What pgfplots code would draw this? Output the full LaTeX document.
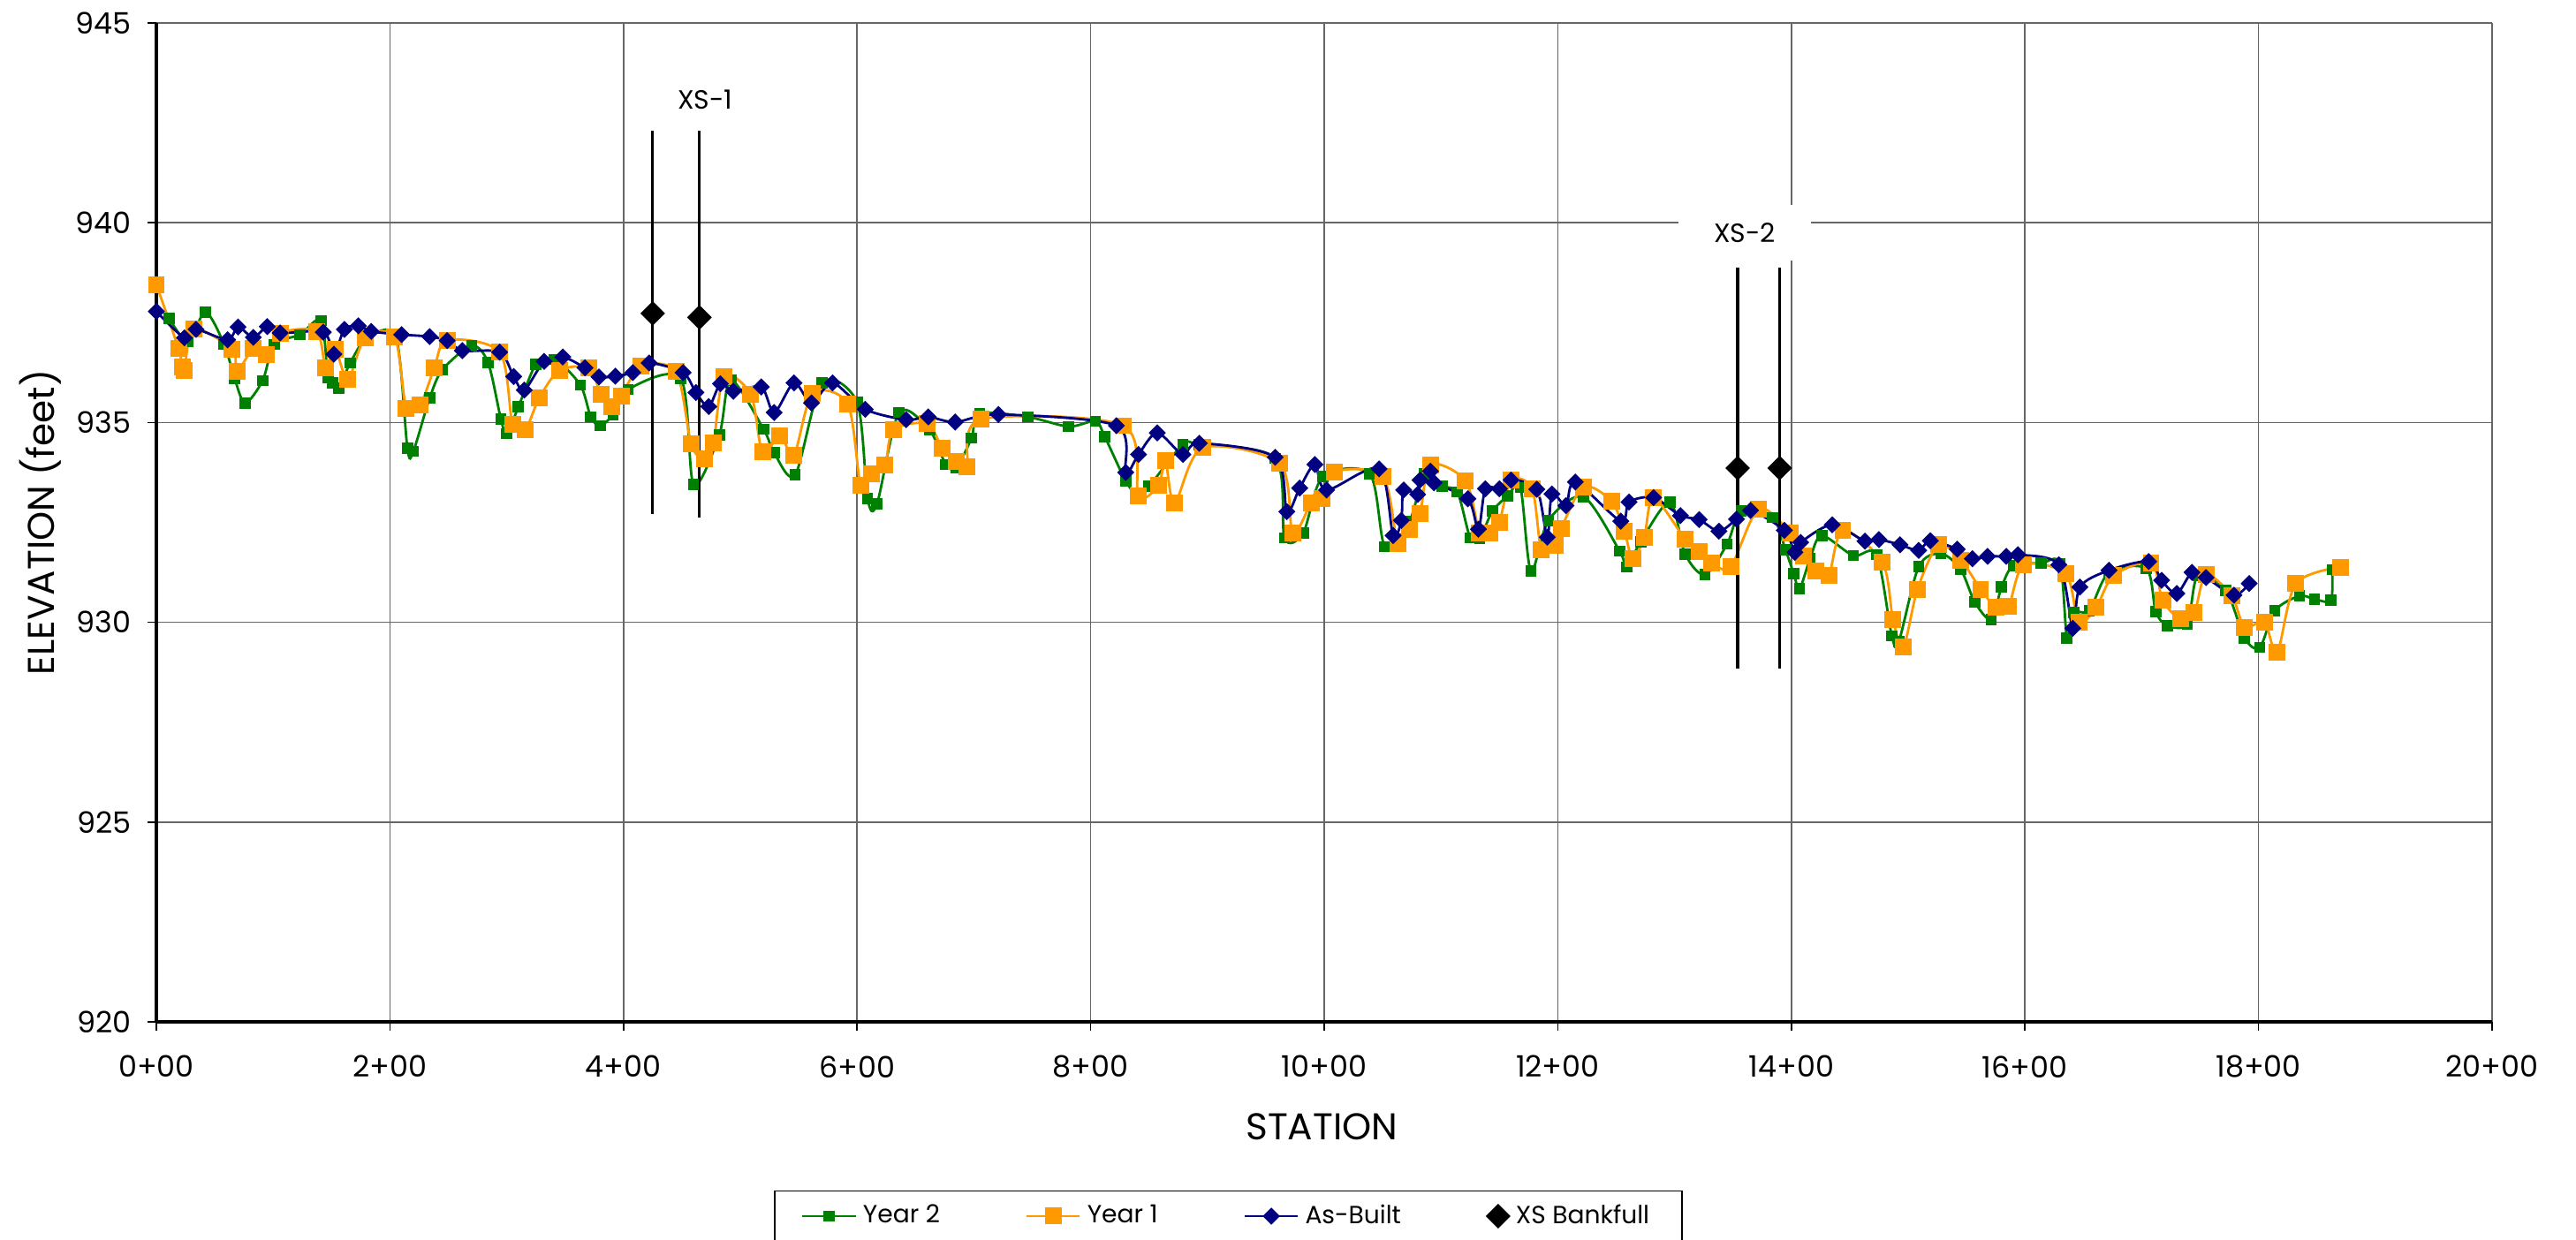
\documentclass[border=0pt]{standalone}
\usepackage{fontspec}
\setmainfont{Poppins}
\usepackage{pgfplots}
\pgfplotsset{compat=1.18}
\definecolor{ygreen}{RGB}{0,128,0}
\definecolor{yorange}{RGB}{255,153,0}
\definecolor{navyb}{RGB}{0,0,128}
\begin{document}
\begin{tikzpicture}
\useasboundingbox (-1.77,-2.47) rectangle (27.39,11.57);
\begin{axis}[
  at={(0,0)}, anchor=south west, scale only axis,
  width=26.44cm, height=11.31cm,
  xmin=0, xmax=2000, ymin=920, ymax=945,
  xtick={0,200,400,600,800,1000,1200,1400,1600,1800,2000},
  xticklabels={0+00,2+00,4+00,6+00,8+00,10+00,12+00,14+00,16+00,18+00,20+00},
  ytick={920,925,930,935,940,945},
  /pgf/number format/assume math mode=true,
  /pgf/number format/1000 sep={},
  grid=major, major grid style={gray!80!black, line width=0.45pt},
  axis x line*=bottom, axis y line*=left,
  axis line style={line width=1.1pt, black, -},
  tick align=outside, major tick length=0.1cm,
  tick style={black, line width=0.45pt},
  ticklabel style={font=\fontsize{9.5}{11}\selectfont},
  xticklabel style={yshift=-0.16cm},
  yticklabel style={xshift=-0.06cm},
  xlabel={STATION}, ylabel={ELEVATION (feet)},
  label style={font=\fontsize{12}{14}\selectfont},
  xlabel style={at={(axis description cs:0.499,-0.105)}, anchor=center},
  ylabel style={at={(axis description cs:-0.0495,0.5)}, anchor=center},
  legend style={at={(axis description cs:0.459,-0.1945)}, anchor=center,
    legend columns=4, draw=black, font=\fontsize{8}{10}\selectfont,
    inner xsep=0.3cm, inner ysep=0.08cm,
    /tikz/every even column/.append style={column sep=0.9cm}},
  legend cell align=left,
]
% Year 2
\addplot[color=ygreen, line width=0.8pt, smooth, tension=0.5, mark=square*, mark size=1.4pt, mark options={fill=ygreen, draw=ygreen}] coordinates {
(11,937.61)(27,937.02)(42,937.76)(58,936.96)(67,936.10)(76,935.49)(91,936.05)(101,936.95)
(123,937.20)(141,937.55)(147,936.12)(151,935.99)(156,935.86)(166,936.49)(180,937.10)(205,937.15)
(215,934.35)(220,934.28)(234,935.61)(245,936.32)(270,936.92)(284,936.50)(295,935.09)(300,934.72)
(310,935.39)(325,936.45)(341,936.58)(363,935.94)(372,935.14)(380,934.92)(391,935.20)(404,935.83)
(449,936.10)(460,933.45)(482,934.69)(492,936.06)(520,934.83)(529,934.24)(547,933.69)(570,935.99)
(600,935.50)(609,933.10)(617,932.96)(636,935.25)(662,934.81)(676,933.95)(685,933.87)(698,934.61)
(705,935.22)(746,935.14)(781,934.90)(804,935.03)(812,934.65)(830,933.54)(841,933.16)(850,933.40)
(879,934.45)(893,934.45)(958,934.10)(966,932.11)(982,932.24)(999,933.65)(1039,933.71)(1052,931.89)
(1073,932.53)(1086,933.71)(1101,933.40)(1114,933.26)(1125,932.11)(1133,932.09)(1144,932.78)(1157,933.16)
(1168,933.37)(1177,931.28)(1192,932.55)(1222,933.14)(1253,931.78)(1259,931.38)(1271,932.02)(1296,933.01)
(1309,931.71)(1326,931.19)(1345,931.96)(1357,932.78)(1384,932.62)(1395,931.81)(1402,931.22)(1407,930.84)
(1416,931.59)(1426,932.17)(1453,931.67)(1473,931.69)(1486,929.66)(1492,929.52)(1509,931.39)(1528,931.72)
(1545,931.32)(1557,930.51)(1571,930.07)(1580,930.88)(1590,931.41)(1614,931.48)(1630,931.47)(1636,929.60)
(1642,930.25)(1655,930.29)(1672,931.25)(1704,931.34)(1712,930.27)(1722,929.92)(1739,929.96)(1748,931.17)
(1772,930.80)(1788,929.61)(1801,929.37)(1814,930.29)(1835,930.66)(1848,930.58)(1862,930.55)(1863,931.32)
};
\addlegendentry{Year 2}
% Year 1
\addplot[color=yorange, line width=0.8pt, smooth, tension=0.5, mark=square*, mark size=2.3pt, mark options={fill=yorange, draw=yorange}] coordinates {
(0,938.45)(19,936.85)(22,936.40)(24,936.30)(32,937.33)(65,936.84)(69,936.28)(83,936.85)
(94,936.71)(106,937.24)(137,937.28)(145,936.37)(153,936.84)(164,936.08)(179,937.13)(204,937.14)
(214,935.36)(226,935.45)(238,936.36)(249,937.06)(294,936.76)(305,934.95)(316,934.83)(328,935.62)
(345,936.30)(370,936.36)(381,935.70)(390,935.40)(398,935.66)(415,936.41)(445,936.27)(458,934.46)
(469,934.09)(477,934.48)(486,936.15)(509,935.70)(519,934.26)(534,934.67)(546,934.19)(562,935.73)
(592,935.46)(603,933.43)(612,933.71)(624,933.94)(631,934.81)(660,934.97)(673,934.35)(685,934.02)
(694,933.89)(706,935.08)(828,934.92)(841,933.16)(858,933.43)(864,934.04)(872,932.99)(896,934.37)
(962,933.97)(973,932.24)(989,932.99)(998,933.09)(1009,933.77)(1050,933.65)(1063,931.96)(1073,932.33)
(1082,932.72)(1091,933.94)(1121,933.54)(1133,932.24)(1142,932.24)(1150,932.51)(1160,933.56)(1178,933.34)
(1186,931.81)(1198,931.92)(1203,932.35)(1222,933.39)(1246,933.03)(1257,932.28)(1264,931.60)(1274,932.13)
(1282,933.12)(1309,932.08)(1321,931.76)(1332,931.48)(1348,931.39)(1372,932.84)(1399,932.24)(1410,931.67)
(1421,931.28)(1432,931.17)(1444,932.30)(1478,931.50)(1487,930.07)(1496,929.39)(1508,930.83)(1526,931.94)
(1545,931.56)(1562,930.83)(1575,930.38)(1586,930.40)(1599,931.43)(1635,931.21)(1646,930.00)(1661,930.38)
(1676,931.17)(1708,931.49)(1718,930.55)(1733,930.08)(1745,930.24)(1755,931.19)(1777,930.66)(1788,929.88)
(1805,930.01)(1816,929.25)(1832,930.97)(1870,931.38)
};
\addlegendentry{Year 1}
% As-Built
\addplot[color=navyb, line width=0.8pt, smooth, tension=0.5, mark=square*, mark size=1.55pt, mark options={fill=navyb, draw=navyb, rotate=45}] coordinates {
(0,937.78)(24,937.12)(34,937.33)(61,937.07)(70,937.39)(83,937.13)(95,937.40)(106,937.24)
(143,937.26)(152,936.71)(161,937.33)(173,937.42)(184,937.28)(210,937.20)(234,937.15)(249,937.05)
(262,936.80)(294,936.76)(306,936.15)(315,935.81)(332,936.53)(348,936.64)(367,936.37)(379,936.14)
(393,936.16)(408,936.25)(422,936.49)(451,936.25)(462,935.75)(473,935.40)(483,935.97)(494,935.78)
(518,935.89)(529,935.25)(546,935.99)(561,935.49)(579,935.99)(607,935.33)(642,935.07)(661,935.14)
(684,935.01)(721,935.20)(822,934.92)(830,933.75)(841,934.20)(857,934.74)(879,934.20)(893,934.48)
(958,934.13)(968,932.77)(979,933.36)(992,933.95)(1002,933.31)(1047,933.84)(1059,932.17)(1066,932.55)
(1068,933.31)(1080,933.20)(1082,933.56)(1091,933.78)(1094,933.49)(1123,933.09)(1132,932.33)(1138,933.34)
(1150,933.34)(1160,933.56)(1182,933.33)(1191,932.13)(1195,933.21)(1207,932.92)(1215,933.51)(1254,932.53)
(1261,933.01)(1282,933.12)(1305,932.67)(1321,932.57)(1338,932.28)(1353,932.58)(1365,932.80)(1394,932.30)
(1403,931.75)(1408,932.00)(1435,932.44)(1463,932.03)(1475,932.07)(1493,931.94)(1509,931.80)(1519,932.04)
(1542,931.83)(1555,931.59)(1568,931.65)(1584,931.65)(1594,931.69)(1629,931.44)(1641,929.85)(1647,930.88)
(1672,931.30)(1706,931.52)(1717,931.05)(1730,930.72)(1743,931.25)(1755,931.12)(1779,930.68)(1792,930.97)
};
\addlegendentry{As-Built}
% XS Bankfull
\addplot[only marks, mark=square*, mark size=2.6pt, mark options={fill=black, draw=black, rotate=45},
  error bars/.cd, y dir=both, y explicit, error mark=none,
  error bar style={line width=0.9pt, black}] coordinates {
(425,937.73) += (0,4.57) -= (0,5.01)
(465,937.63) += (0,4.67) -= (0,5.01)
(1354,933.86) +- (0,5.01)
(1390,933.86) +- (0,5.01)
};
\addlegendentry{XS Bankfull}
\node[fill=white, inner xsep=0.4cm, inner ysep=0.2cm, font=\fontsize{8.5}{10}\selectfont] at (axis cs:470,943.09) {XS-1};
\node[fill=white, inner xsep=0.4cm, inner ysep=0.2cm, font=\fontsize{8.5}{10}\selectfont] at (axis cs:1360,939.75) {XS-2};
\end{axis}
\end{tikzpicture}
\end{document}
